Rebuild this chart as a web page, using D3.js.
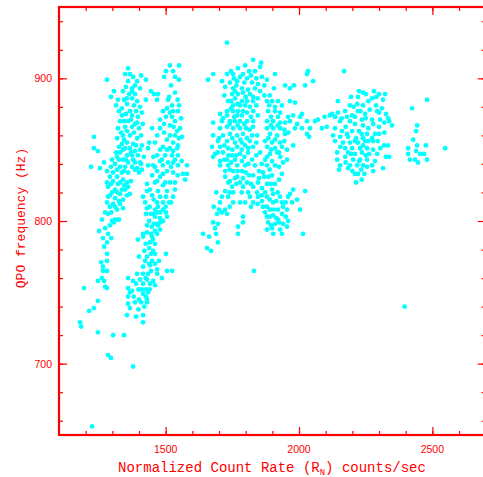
<!DOCTYPE html>
<html>
<head>
<meta charset="utf-8">
<script src="https://cdn.jsdelivr.net/npm/d3@7"></script>
<style>
  body { margin: 0; background: #fff; }
  svg { display: block; }
</style>
</head>
<body>
<div id="chart"></div>
<script>
// QPO frequency vs normalized count rate, [rate, freq] pairs
var bandA = [
  [1359,907],[1348,903],[1378,901],[1408,902],[1280,899],[1426,899],[1359,898],[1393,898],
  [1374,893],[1404,893],[1306,891],[1340,891],[1374,891],[1295,887],[1321,885],[1355,886],
  [1374,886],[1393,884],[1426,885],[1314,881],[1355,882],[1336,879],[1366,877],[1389,877],
  [1336,874],[1374,874],[1396,873],[1329,870],[1359,870],[1385,868],[1321,865],[1348,866],
  [1374,866],[1400,865],[1340,860],[1366,860],[1393,858],[1318,858],[1231,859],[1355,855],
  [1336,854],[1378,854],[1231,851],[1246,849],[1348,851],[1366,851],[1385,849],[1404,850],
  [1329,848],[1355,846],[1374,846],[1396,846],[1318,845],[1340,843],[1359,841],[1385,841],
  [1404,841],[1269,841],[1220,838],[1310,840],[1329,838],[1348,838],[1374,838],[1393,837],
  [1411,836],[1254,837],[1280,835],[1303,834],[1336,834],[1359,834],[1400,834],[1291,831],
  [1318,831],[1340,829],[1303,828],[1280,827],[1321,826],[1355,827],[1284,824],[1310,822],
  [1336,822],[1359,824],[1299,820],[1329,819],[1355,818],[1366,819],[1284,817],[1310,816],
  [1340,815],[1280,813],[1303,812],[1329,812],[1291,810],[1318,808],[1273,806],[1284,805],
  [1261,801],[1299,800],[1306,799],[1321,801],[1250,793],[1284,791],[1280,785],[1310,801],
  [1325,801],
  [1366,903],[1385,895],[1351,894],[1363,889],[1385,889],[1344,885],[1404,880],[1381,881],
  [1325,877],[1351,875],[1411,876],[1344,870],[1370,871],[1393,869],[1414,868],[1333,862],
  [1355,863],[1381,862],[1408,860],[1325,852],[1344,857],[1389,853],[1411,853],[1314,848],
  [1340,850],[1370,848],[1418,845],[1299,843],[1325,843],[1351,843],[1378,843],[1295,838],
  [1318,836],[1344,835],[1385,836],[1408,840],[1295,826],[1329,827],[1344,825],[1370,828],
  [1291,818],[1318,820],[1348,822],[1325,814],[1296,806],[1310,810],[1340,809],[1291,797],
  [1273,795],[1265,788],[1296,788],[1269,782]
];
var bandALow = [
  [1280,777],[1280,772],[1258,771],[1265,768],[1265,765],[1280,765],[1261,760],[1246,758],
  [1269,758],[1273,754],[1280,753],[1194,753],[1246,744],[1231,739],[1213,737],[1179,729],
  [1183,726],[1246,722],[1303,720],[1344,720],[1284,706],[1295,704],[1378,698],[1224,656]
];
var bandB = [
  [1516,909],[1550,909],[1501,905],[1528,905],[1494,901],[1535,901],[1550,899],[1445,891],
  [1456,889],[1471,889],[1468,885],[1509,885],[1505,879],[1528,877],[1546,877],[1501,873],
  [1524,873],[1479,871],[1535,870],[1449,865],[1479,865],[1516,867],[1543,863],[1468,860],
  [1516,860],[1535,860],[1561,859],[1438,855],[1460,855],[1528,855],[1546,853],[1434,851],
  [1479,850],[1516,851],[1543,851],[1468,846],[1498,846],[1524,846],[1546,846],[1479,842],
  [1509,841],[1528,841],[1434,839],[1453,839],[1490,839],[1546,839],[1580,839],[1468,835],
  [1505,835],[1528,834],[1565,833],[1580,833],[1573,829],[1449,832],[1479,831],[1430,826],
  [1460,827],[1498,827],[1516,827],[1441,822],[1471,821],[1505,821],[1535,822],[1415,817],
  [1449,818],[1479,817],[1501,817],[1528,817],[1423,813],[1468,813],[1490,813],[1513,813],
  [1430,809],[1471,810],[1490,808],[1426,805],[1445,805],[1479,806],[1501,806],[1460,803],
  [1479,802],[1490,800],[1430,797],[1456,798],[1471,797],[1460,793],[1479,794],[1415,791],
  [1445,791],[1468,791],[1396,787],[1441,785],[1438,781],
  [1520,895],[1535,890],[1513,887],[1545,885],[1524,881],[1550,881],[1490,877],[1516,876],
  [1558,872],[1494,868],[1530,866],[1554,865],[1494,862],[1505,857],[1550,858],[1490,852],
  [1505,850],[1528,849],[1454,845],[1486,843],[1535,843],[1560,842],[1460,838],[1520,838],
  [1490,833],[1545,832],[1468,828],[1535,827],[1430,821],[1490,825],[1455,815],[1520,813],
  [1440,810],[1500,810],[1438,800],[1460,808],[1448,796],[1480,799],[1430,792],[1452,787]
];
var bandBLow = [
  [1415,789],[1453,805],[1468,806],[1505,803],[1468,798],[1449,789],[1453,779],[1430,775],
  [1460,777],[1475,772],[1501,777],[1400,775],[1423,772],[1449,772],[1415,768],[1441,769],
  [1468,766],[1505,765],[1524,765],[1393,763],[1415,763],[1434,763],[1468,763],[1359,760],
  [1378,758],[1404,759],[1430,759],[1453,758],[1486,760],[1389,756],[1415,756],[1441,756],
  [1460,755],[1359,753],[1374,751],[1411,752],[1426,752],[1434,750],[1366,750],[1415,749],
  [1359,747],[1400,745],[1426,747],[1430,745],[1385,743],[1408,743],[1430,743],[1359,742],
  [1366,739],[1355,734],[1389,733],[1415,734],[1415,729],
  [1425,784],[1460,784],[1445,777],[1420,779],[1438,770],[1460,770],[1425,760],[1445,765],
  [1398,752],[1440,752],[1380,747],[1420,740],[1398,738]
];
var clusterC = [
  [1730,925],[1828,913],[1858,911],[1678,903],[1659,899],[1730,903],[1753,903],[1798,909],
  [1771,907],[1813,905],[1835,905],[1854,908],[1910,903],[1779,901],[1756,900],[1805,900],
  [1861,901],[1880,899],[1711,898],[1741,897],[1768,898],[1824,897],[1846,896],[1723,894],
  [1753,893],[1786,893],[1809,892],[1854,891],[1906,893],[1948,895],[1966,893],[1981,895],
  [2034,905],[2030,903],[2053,898],[2023,895],[1749,889],[1771,889],[1790,890],[1816,889],
  [1828,887],[1734,884],[1760,886],[1786,884],[1805,884],[1828,884],[1880,884],[1899,884],
  [1921,884],[1966,884],[1985,883],[1753,881],[1779,881],[1798,881],[1816,880],[1888,881],
  [1910,880],[1936,881],[1730,877],[1753,877],[1771,877],[1790,877],[1828,877],[1884,877],
  [1910,877],[1929,876],[1704,875],[1730,874],[1768,874],[1786,874],[1846,874],[1895,873],
  [1921,873],[1959,873],[1978,874],[2004,873],[2011,875],[1678,869],[1711,870],[1741,870],
  [1760,870],[1779,870],[1805,870],[1828,870],[1880,870],[1903,870],[1929,869],[1948,869],
  [1966,870],[1993,868],[2030,870],[2060,870],[2071,871],[2096,873],[2116,874],[2135,873],
  [1704,865],[1730,866],[1753,865],[1779,865],[1801,865],[1828,866],[1880,865],[1903,865],
  [1929,865],[1985,865],[2011,865],[2041,865],[2086,865],[2104,866],[1678,860],[1715,860],
  [1741,861],[1768,860],[1790,861],[1824,860],[1843,860],[1891,861],[1918,860],[1948,861],
  [2030,861],[2038,859],[1696,856],[1730,856],[1760,855],[1786,855],[1816,856],[1873,856],
  [1899,855],[1929,855],[1674,852],[1704,852],[1734,851],[1768,852],[1798,853],[1828,852],
  [1880,852],[1910,851],[1936,852],[1978,853],[1685,847],[1715,848],[1749,846],[1779,847],
  [1809,848],[1854,848],[1891,847],[1918,848],[1678,845],[1704,842],[1730,843],[1760,843],
  [1786,842],[1824,843],[1873,843],[1899,842],[1940,841],[1955,843],[1704,839],[1734,839],
  [1768,839],[1798,839],[1835,839],[1880,839],[1910,839],[1723,835],[1753,835],[1786,835],
  [1813,832],[1828,832],[1869,831],[1899,832],[1936,833],[1723,831],[1768,831],[1741,828],
  [1779,827],[1805,827],[1846,827],[1880,826],[1910,826],[1749,824],[1790,824],[1828,824],
  [1861,823],[1899,822],[1723,821],[1753,820],[1809,820],[1843,820],[1873,820],[1903,819],
  [1966,819],[1978,822],[1711,817],[1734,817],[1816,817],[1846,817],[1880,817],[1929,817],
  [1959,817],[1993,815],[1704,813],[1753,813],[1779,813],[1798,813],[1828,813],[1861,814],
  [1903,813],[1936,813],[1974,813],[2004,808],[2023,821],[1723,808],[1711,806],[1865,810],
  [1891,808],[1921,808],[1955,808],[1693,805],[1730,805],[1873,806],[1903,804],[1936,805],
  [1790,803],[1880,803],[1921,801],[1959,800],[1678,799],[1696,798],[1790,799],[1884,799],
  [1910,798],[1940,798],[1685,795],[1771,796],[1880,794],[1899,795],[1929,794],[1955,796],
  [1640,791],[1663,789],[1689,791],[1771,791],[1903,791],[1936,791],[2015,791],[1696,785],
  [1655,781],[1670,779],[1831,765],
  [1745,905],[1790,903],[1820,902],[1840,900],[1765,895],[1795,897],[1835,893],[1870,895],
  [1890,888],[1720,888],[1760,891],[1800,887],[1845,886],[1870,888],[1745,884],[1770,882],
  [1840,881],[1745,879],[1805,876],[1820,873],[1757,873],[1715,872],[1740,868],[1770,867],
  [1795,868],[1815,864],[1895,867],[1920,867],[1945,864],[1960,862],[1700,858],[1750,858],
  [1780,857],[1805,858],[1840,855],[1885,858],[1910,857],[1945,856],[1720,853],[1750,850],
  [1785,850],[1810,851],[1895,850],[1925,848],[1955,850],[1695,848],[1735,846],[1765,846],
  [1795,845],[1840,846],[1880,845],[1930,845],[1720,843],[1745,841],[1810,840],[1860,840],
  [1890,836],[1925,838],[1740,836],[1770,835],[1800,834],[1850,835],[1865,834],[1760,830],
  [1790,830],[1850,830],[1885,831],[1925,829],[1735,827],[1765,826],[1820,826],[1895,826],
  [1920,820],[1860,818],[1890,815],[1915,814],[1950,813],[1880,810],[1905,808],[1940,810],
  [1890,803],[1915,802],[1950,803],[1895,797],[1925,799],[1740,820],[1785,820],[1740,810],
  [1690,820],[1700,808],[1680,810],[1820,810],[1845,812]
];
var clusterE = [
  [2169,905],[2225,891],[2251,889],[2281,891],[2300,889],[2323,889],[2146,884],[2195,887],
  [2221,887],[2274,886],[2315,885],[2480,885],[2191,881],[2218,882],[2240,881],[2289,881],
  [2311,879],[2424,879],[2124,875],[2146,876],[2173,877],[2199,874],[2221,877],[2248,875],
  [2293,877],[2326,875],[2135,873],[2180,873],[2210,873],[2236,871],[2274,871],[2304,871],
  [2334,872],[2154,870],[2191,870],[2240,867],[2278,868],[2338,870],[2349,867],[2443,867],
  [2135,865],[2161,863],[2199,863],[2225,863],[2255,861],[2285,861],[2300,861],[2439,863],
  [2128,860],[2154,859],[2184,859],[2214,858],[2240,858],[2274,858],[2135,856],[2165,855],
  [2191,855],[2221,855],[2248,856],[2278,856],[2428,857],[2173,851],[2199,851],[2229,851],
  [2255,851],[2278,850],[2319,853],[2334,853],[2409,851],[2443,853],[2476,853],[2548,851],
  [2143,848],[2184,848],[2210,847],[2236,848],[2263,847],[2293,847],[2409,847],[2439,849],
  [2454,847],[2469,847],[2143,843],[2173,845],[2203,843],[2229,843],[2255,843],[2326,845],
  [2338,845],[2416,843],[2435,843],[2446,841],[2480,843],[2154,839],[2191,839],[2218,839],
  [2240,839],[2274,839],[2150,836],[2184,837],[2233,836],[2255,838],[2278,835],[2315,837],
  [2210,833],[2221,833],[2214,827],[2396,740],
  [2240,890],[2290,887],[2260,884],[2205,880],[2230,877],[2265,878],[2300,876],[2160,872],
  [2250,872],[2320,869],[2210,868],[2175,866],[2300,866],[2260,865],[2180,861],[2235,861],
  [2320,862],[2210,856],[2260,856],[2295,856],[2155,852],[2240,853],[2305,851],[2195,847],
  [2250,846],[2225,842],[2285,842],[2175,841],[2200,835],[2245,833],[2235,829]
];

var xTicks = [1500, 2000, 2500];
var yTicks = [700, 800, 900];
var xTitle = "Normalized Count Rate (R", xSub = "N", xTitleEnd = ") counts/sec";
var yTitle = "QPO frequency (Hz)";

var points = bandA.concat(bandALow, bandB, bandBLow, clusterC, clusterE);

var W = 483, H = 477;
var margin = {top: 7, right: 0, bottom: 42, left: 59},
    width = 426.7,
    height = H - margin.top - margin.bottom;

var red = "#ff0000";

var svg = d3.select("#chart")
  .append("svg")
    .attr("width", W)
    .attr("height", H)
  .append("g")
    .attr("transform", "translate(" + margin.left + "," + margin.top + ")");

var x = d3.scaleLinear().domain([1100, 2700]).range([0, width]);
var y = d3.scaleLinear().domain([650, 950]).range([height, 0]);

// dots first, frame on top
svg.selectAll("circle")
  .data(points)
  .enter()
  .append("circle")
    .attr("cx", function(d) { return x(d[0]); })
    .attr("cy", function(d) { return y(d[1]); })
    .attr("r", 2.4)
    .attr("fill", "#00ffff");

// frame with inward ticks on all four sides
function frameAxis(axis, transform) {
  var g = svg.append("g")
    .attr("transform", transform)
    .call(axis);
  g.select(".domain").remove();
  g.selectAll("line").attr("stroke", red).attr("stroke-width", 1.2);
  g.selectAll("text").remove();
  return g;
}
var xMinor = d3.range(1200, 2700, 100);
var yMinor = d3.range(660, 950, 20);

frameAxis(d3.axisBottom(x).tickValues(xMinor).tickSize(-4), "translate(0," + height + ")");
frameAxis(d3.axisBottom(x).tickValues(xTicks).tickSize(-8), "translate(0," + height + ")");
frameAxis(d3.axisTop(x).tickValues(xMinor).tickSize(-4), "translate(0,0)");
frameAxis(d3.axisTop(x).tickValues(xTicks).tickSize(-8), "translate(0,0)");
frameAxis(d3.axisLeft(y).tickValues(yMinor).tickSize(-4), "translate(0,0)");
frameAxis(d3.axisLeft(y).tickValues(yTicks).tickSize(-8), "translate(0,0)");
frameAxis(d3.axisRight(y).tickValues(yMinor).tickSize(-4), "translate(" + width + ",0)");
frameAxis(d3.axisRight(y).tickValues(yTicks).tickSize(-8), "translate(" + width + ",0)");

svg.append("rect")
  .attr("x", 0).attr("y", 0)
  .attr("width", width).attr("height", height)
  .attr("fill", "none")
  .attr("stroke", red)
  .attr("stroke-width", 2.2);

// tick labels
svg.selectAll(".xlab")
  .data(xTicks)
  .enter()
  .append("text")
    .attr("x", function(d) { return x(d); })
    .attr("y", height + 18)
    .attr("text-anchor", "middle")
    .style("font-family", "'Liberation Sans', Arial, sans-serif")
    .style("font-size", "10.5px")
    .attr("fill", red)
    .text(function(d) { return d; });

svg.selectAll(".ylab")
  .data(yTicks)
  .enter()
  .append("text")
    .attr("x", -7)
    .attr("y", function(d) { return y(d) + 4; })
    .attr("text-anchor", "end")
    .style("font-family", "'Liberation Sans', Arial, sans-serif")
    .style("font-size", "10.5px")
    .attr("fill", red)
    .text(function(d) { return d; });

// axis titles
var xt = svg.append("text")
  .attr("x", 272 - margin.left)
  .attr("y", 472 - margin.top)
  .attr("text-anchor", "middle")
  .style("font-family", "'Liberation Mono', 'DejaVu Sans Mono', monospace")
  .style("font-size", "14px")
  .attr("fill", red);
xt.append("tspan").text(xTitle);
xt.append("tspan").attr("dy", 3).style("font-size", "9px").text(xSub);
xt.append("tspan").attr("dy", -3).text(xTitleEnd);

svg.append("text")
  .attr("transform", "translate(" + (25 - margin.left) + "," + (218 - margin.top) + ") rotate(-90)")
  .attr("text-anchor", "middle")
  .style("font-family", "'Liberation Mono', 'DejaVu Sans Mono', monospace")
  .style("font-size", "13px")
  .attr("fill", red)
  .text(yTitle);
</script>
</body>
</html>
